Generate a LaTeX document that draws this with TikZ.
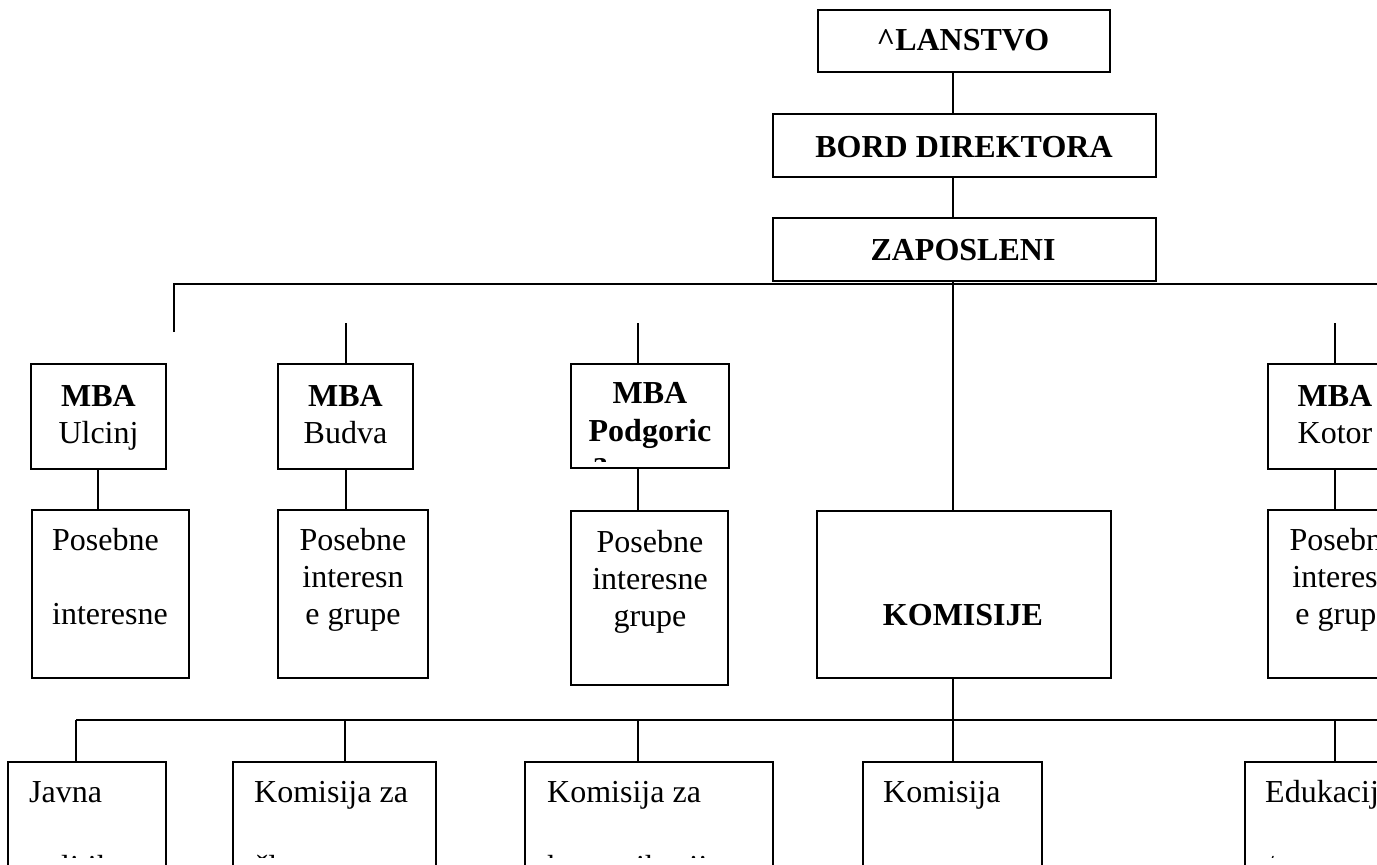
\documentclass[tikz,border=0pt]{standalone}
\usepackage{fontspec}
\setmainfont{Liberation Serif}
\begin{document}
\begin{tikzpicture}[x=1pt,y=-1pt,
  box/.style={draw, line width=2pt, inner sep=0pt},
  lbl/.style={font=\fontsize{32}{37}\selectfont, anchor=base, inner sep=0pt},
  blbl/.style={font=\fontsize{32}{37}\selectfont\bfseries, anchor=base, inner sep=0pt},
  lnk/.style={line width=2pt}]
\useasboundingbox (0,0) rectangle (1377,865);
\clip (0,0) rectangle (1377,865);
\fill[white] (0,0) rectangle (1377,865);
% top chain
\node[box, minimum width=292, minimum height=62] (clan) at (964,41) {};
\node[box, minimum width=383, minimum height=63] (bord) at (964.5,145.5) {};
\node[box, minimum width=383, minimum height=63] (zap) at (964.5,249.5) {};
\node[blbl] (tclan) at (963,50) {\textasciicircum LANSTVO};
\node[blbl] (tbord) at (964,157) {BORD DIREKTORA};
\node[blbl] (tzap) at (963,260) {ZAPOSLENI};
% MBA boxes
\node[box, minimum width=135, minimum height=105] (ulc) at (98.5,416.5) {};
\node[box, minimum width=135, minimum height=105] (bud) at (345.5,416.5) {};
\node[box, minimum width=158, minimum height=104] (pod) at (650,416) {};
\node[box, minimum width=135, minimum height=105] (kot) at (1335.5,416.5) {};
\node[blbl] (tulc1) at (98.5,406) {MBA};
\node[lbl] (tulc2) at (98.5,443) {Ulcinj};
\node[blbl] (tbud1) at (345.5,406) {MBA};
\node[lbl] (tbud2) at (345.5,443) {Budva};
\node[blbl] (tpod1) at (650,403) {MBA};
\node[blbl] (tpod2) at (650,441) {Podgoric};
\begin{scope}
  \clip (571,364) rectangle (729,461);
  \node[blbl, anchor=base west] (tpod3) at (592,473) {a};
\end{scope}
\node[blbl] (tkot1) at (1335,406) {MBA};
\node[lbl] (tkot2) at (1335,443) {Kotor};
% interest groups and KOMISIJE
\node[box, minimum width=157, minimum height=168] (pu) at (110.5,594) {};
\node[box, minimum width=150, minimum height=168] (pb) at (353,594) {};
\node[box, minimum width=157, minimum height=174] (pp) at (649.5,598) {};
\node[box, minimum width=294, minimum height=167] (kom) at (964,594.5) {};
\node[box, minimum width=150, minimum height=168] (pk) at (1343,594) {};
\node[lbl, anchor=base west] (tpu1) at (52,550) {Posebne};
\node[lbl, anchor=base west] (tpu2) at (52,624) {interesne};
\node[lbl] (tpb1) at (353,550) {Posebne};
\node[lbl] (tpb2) at (353,587) {interesn};
\node[lbl] (tpb3) at (353,624) {e grupe};
\node[lbl] (tpp1) at (650,552) {Posebne};
\node[lbl] (tpp2) at (650,589) {interesne};
\node[lbl] (tpp3) at (650,626) {grupe};
\node[blbl] (tkom) at (963,625) {KOMISIJE};
\node[lbl] (tpk1) at (1343,550) {Posebne};
\node[lbl] (tpk2) at (1343,587) {interesn};
\node[lbl] (tpk3) at (1343,624) {e grupe};
% bottom row
\node[box, minimum width=158, minimum height=138] (b1) at (87,831) {};
\node[box, minimum width=203, minimum height=138] (b2) at (334.5,831) {};
\node[box, minimum width=248, minimum height=138] (b3) at (649,831) {};
\node[box, minimum width=179, minimum height=138] (b4) at (952.5,831) {};
\node[box, minimum width=195, minimum height=138] (b5) at (1342.5,831) {};
\node[lbl, anchor=base west] (tb1) at (29,802) {Javna};
\node[lbl, anchor=base west] (tb2) at (254,802) {Komisija za};
\node[lbl, anchor=base west] (tb3) at (547,802) {Komisija za};
\node[lbl, anchor=base west] (tb4) at (883,802) {Komisija};
\node[lbl, anchor=base west] (tb5) at (1265,802) {Edukacija};
\begin{scope}
  \clip (0,0) rectangle (1377,857);
  \node[lbl, anchor=base west] (tb1b) at (29,877) {politika};
  \node[lbl, anchor=base west] (tb2b) at (254,877) {članstvo};
  \node[lbl, anchor=base west] (tb3b) at (547,877) {komunikacije};
  \node[lbl, anchor=base west] (tb5b) at (1265,877) {/};
\end{scope}
% connectors
\coordinate (spine) at (953,0);
\draw[lnk] (clan.south -| spine) -- (bord.north -| spine);
\draw[lnk] (bord.south -| spine) -- (zap.north -| spine);
\coordinate (h1L) at (174,284);
\coordinate (h1R) at (1395,284);
\coordinate (s0) at (174,332);
\draw[lnk] (s0) -- (h1L) -- (h1R);
\draw[lnk] (zap.south -| spine) -- (kom.north -| spine);
\coordinate (sb) at (346,323);
\coordinate (sp) at (638,323);
\coordinate (sk) at (1335,323);
\coordinate (su) at (98,0);
\draw[lnk] (sb) -- (sb |- bud.north);
\draw[lnk] (sp) -- (sp |- pod.north);
\draw[lnk] (sk) -- (sk |- kot.north);
\draw[lnk] (su |- ulc.south) -- (su |- pu.north);
\draw[lnk] (sb |- bud.south) -- (sb |- pb.north);
\draw[lnk] (sp |- pod.south) -- (sp |- pp.north);
\draw[lnk] (sk |- kot.south) -- (sk |- pk.north);
\coordinate (h2L) at (76,720);
\coordinate (h2R) at (1395,720);
\draw[lnk] (h2L) -- (h2R);
\draw[lnk] (kom.south -| spine) -- (spine |- h2L);
\draw[lnk] (h2L) -- (h2L |- b1.north);
\coordinate (t2) at (345,720);
\coordinate (t3) at (638,720);
\coordinate (t5) at (1335,720);
\draw[lnk] (t2) -- (t2 |- b2.north);
\draw[lnk] (t3) -- (t3 |- b3.north);
\draw[lnk] (spine |- h2L) -- (spine |- b4.north);
\draw[lnk] (t5) -- (t5 |- b5.north);
\end{tikzpicture}
\end{document}
